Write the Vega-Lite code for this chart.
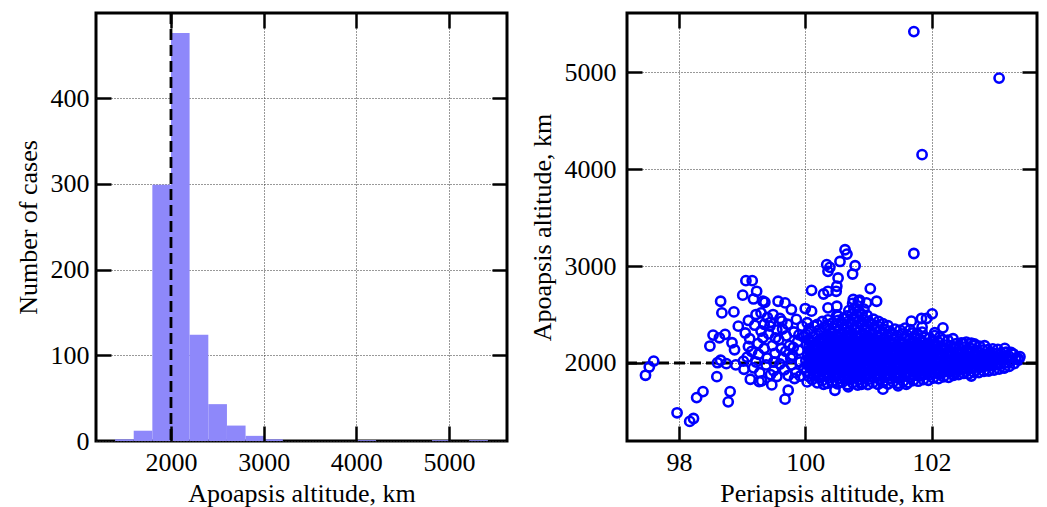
{
"$schema":"https://vega.github.io/schema/vega-lite/v6.json",
"padding":{"left":13,"top":10,"right":5,"bottom":0},
"spacing":18,
"config":{"view":{"stroke":"black","strokeWidth":3},"font":"Liberation Serif",
"axis":{"labelFont":"Liberation Serif","titleFont":"Liberation Serif","labelFontSize":26,"titleFontSize":26,"titleFontWeight":"normal","labelColor":"black","titleColor":"black","domain":false,"ticks":false,"gridDash":[1,2],"gridColor":"#333","gridWidth":1,"gridOpacity":1}},
"hconcat":[
{"width":411,"height":428,
"data":{"values":[
{"start":1397,"end":1598,"count":2},{"start":1598,"end":1799,"count":12},{"start":1799,"end":2000,"count":299},{"start":2000,"end":2201,"count":476},{"start":2201,"end":2403,"count":124},{"start":2403,"end":2604,"count":43},{"start":2604,"end":2805,"count":18},{"start":2805,"end":3006,"count":6},{"start":3006,"end":3207,"count":2},{"start":4011,"end":4213,"count":1},{"start":4816,"end":5017,"count":1},{"start":5218,"end":5420,"count":1}]},
"layer":[
{"mark":{"type":"rect","color":"#8e88fa","opacity":1},
"encoding":{"x":{"field":"start","type":"quantitative","scale":{"domain":[1191,5626],"nice":false,"zero":false},"axis":{"orient":"bottom","values":[2000,3000,4000,5000],"title":"Apoapsis altitude, km","grid":true,"labelPadding":8,"titlePadding":5,"format":"d"}},
"x2":{"field":"end"},
"y":{"field":"count","type":"quantitative","scale":{"domain":[0,499.4],"nice":false},"axis":{"orient":"left","values":[0,100,200,300,400],"title":"Number of cases","grid":true,"labelPadding":7,"titlePadding":9}},
"y2":{"datum":0}}},
{"data":{"values":[{"v":2000}]},"mark":{"type":"rule","color":"black","strokeWidth":2.8,"strokeDash":[11,5]},
"encoding":{"x":{"field":"v","type":"quantitative","axis":null}}},
{"mark":{"type":"rect","opacity":0},
"encoding":{"x":{"field":"start","type":"quantitative","scale":{"domain":[1191,5626],"nice":false,"zero":false},"axis":{"orient":"bottom","values":[2000,3000,4000,5000],"labels":false,"title":null,"grid":true,"gridDash":[15,2000],"gridWidth":2.5,"gridColor":"black","zindex":2}},
"x2":{"field":"end"},
"y":{"field":"count","type":"quantitative","scale":{"domain":[0,499.4],"nice":false},"axis":{"orient":"left","values":[100,200,300,400],"labels":false,"title":null,"grid":true,"gridDash":[15,2000],"gridWidth":2.5,"gridColor":"black","zindex":2}},
"y2":{"datum":0}}},
{"mark":{"type":"rect","opacity":0},
"encoding":{"x":{"field":"start","type":"quantitative","scale":{"domain":[1191,5626],"nice":false,"zero":false},"axis":{"orient":"top","values":[2000,3000,4000,5000],"labels":false,"title":null,"grid":true,"gridDash":[15,2000],"gridWidth":2.5,"gridColor":"black","zindex":2}},
"x2":{"field":"end"},
"y":{"field":"count","type":"quantitative","scale":{"domain":[0,499.4],"nice":false},"axis":{"orient":"right","values":[100,200,300,400],"labels":false,"title":null,"grid":true,"gridDash":[15,2000],"gridWidth":2.5,"gridColor":"black","zindex":2}},
"y2":{"datum":0}}}
],
"resolve":{"axis":{"x":"independent","y":"independent"}}},
{"width":410,"height":428,
"data":{"values":[
{"p":97.60,"a":2020},{"p":97.53,"a":1959},{"p":97.47,"a":1873},{"p":97.97,"a":1486},{"p":98.23,"a":1427},{"p":98.17,"a":1397},{"p":98.38,"a":1705},{"p":98.28,"a":1643},{"p":98.81,"a":1705},{"p":98.78,"a":1599},
{"p":98.61,"a":2003},{"p":98.66,"a":2028},{"p":98.75,"a":1993},{"p":98.60,"a":1859},{"p":98.90,"a":1980},{"p":98.66,"a":2637},{"p":98.68,"a":2517},{"p":98.87,"a":2527},{"p":98.94,"a":2380},{"p":98.54,"a":2288},{"p":98.73,"a":2295},{"p":98.64,"a":2260},{"p":98.49,"a":2175},{"p":98.84,"a":2209},{"p":98.88,"a":2137},
{"p":99.06,"a":2850},{"p":99.16,"a":2850},{"p":99.23,"a":2740},{"p":99.01,"a":2700},{"p":99.18,"a":2661},{"p":99.33,"a":2637},{"p":99.10,"a":2439},{"p":99.22,"a":2500},{"p":99.30,"a":2517},{"p":99.03,"a":1935},{"p":99.13,"a":1832},{"p":99.27,"a":1808},
{"p":99.36,"a":2627},{"p":99.57,"a":2637},{"p":99.68,"a":2620},{"p":99.78,"a":2552},{"p":100.00,"a":2562},{"p":100.10,"a":2535},{"p":99.49,"a":2500},{"p":99.63,"a":2432},{"p":99.44,"a":2380},
{"p":99.68,"a":1627},{"p":99.73,"a":1719},{"p":99.47,"a":1774},{"p":99.31,"a":1815},{"p":99.92,"a":1866},{"p":100.29,"a":1781},{"p":100.47,"a":1719},{"p":100.68,"a":1753},{"p":100.89,"a":1781},{"p":101.23,"a":1730},
{"p":100.63,"a":3169},{"p":100.66,"a":3124},{"p":100.34,"a":3015},{"p":100.39,"a":2987},{"p":100.36,"a":2946},{"p":100.55,"a":3048},{"p":100.79,"a":3004},{"p":100.75,"a":2918},{"p":100.52,"a":2877},{"p":100.50,"a":2792},{"p":100.49,"a":2740},{"p":100.10,"a":2750},{"p":100.29,"a":2712},{"p":100.36,"a":2740},{"p":101.03,"a":2768},
{"p":100.76,"a":2655},{"p":100.84,"a":2637},{"p":100.97,"a":2620},{"p":101.13,"a":2637},{"p":100.36,"a":2569},{"p":100.50,"a":2586},{"p":100.52,"a":2483},
{"p":101.72,"a":5420},{"p":103.07,"a":4940},{"p":101.85,"a":4150},{"p":101.72,"a":3130},
{"p":102.01,"a":2507},{"p":101.92,"a":2459},{"p":101.84,"a":2459},{"p":101.68,"a":2432},{"p":102.18,"a":2363},{"p":101.85,"a":2370},{"p":102.05,"a":2312},{"p":101.74,"a":2278},
{"p":102.50,"a":2202},{"p":102.68,"a":2198},{"p":103.16,"a":2151},{"p":103.37,"a":2048},{"p":102.92,"a":2106},{"p":103.11,"a":2072},{"p":103.16,"a":1952},{"p":102.63,"a":1866},{"p":102.90,"a":1918},{"p":101.47,"a":1764},{"p":101.60,"a":1781},{"p":101.86,"a":1884},{"p":102.12,"a":1884},{"p":102.33,"a":1884},
{"p":99.05,"a":2310},{"p":99.12,"a":2250},{"p":99.20,"a":2390},{"p":99.25,"a":2200},{"p":99.15,"a":2120},{"p":99.30,"a":2330},{"p":99.08,"a":2060},{"p":99.22,"a":2010},{"p":99.35,"a":2150},{"p":99.18,"a":1950},{"p":99.28,"a":1900},{"p":99.40,"a":2050},{"p":99.33,"a":2260},{"p":99.45,"a":2420},{"p":99.38,"a":1980},{"p":99.42,"a":2300},{"p":99.48,"a":2180},{"p":99.50,"a":1920},{"p":99.52,"a":2100},{"p":99.55,"a":2340},{"p":99.58,"a":2240},{"p":99.60,"a":1990},{"p":99.62,"a":2150},{"p":99.65,"a":2050},{"p":99.55,"a":1860},{"p":99.70,"a":2280},{"p":99.72,"a":2400},{"p":99.75,"a":2180},{"p":99.78,"a":1980},{"p":99.80,"a":2080},{"p":99.82,"a":2320},{"p":99.85,"a":1900},{"p":99.88,"a":2220},{"p":99.90,"a":2130},{"p":99.92,"a":2010},{"p":99.95,"a":2380},{"p":99.97,"a":2270},{"p":99.60,"a":2460},{"p":99.40,"a":2470},{"p":99.50,"a":2010},{"p":99.67,"a":1930},{"p":99.83,"a":1840},{"p":99.10,"a":2170},{"p":99.26,"a":2090},{"p":99.45,"a":1880},{"p":99.73,"a":1870},{"p":99.86,"a":2450},{"p":99.98,"a":1950},{"p":99.64,"a":2350},{"p":99.35,"a":2400},{"p":99.02,"a":2020},{"p":99.77,"a":2050},{"p":99.53,"a":2260},{"p":99.69,"a":2120},{"p":99.90,"a":2290},{"p":99.81,"a":2160},
{"p":100.03,"a":1805},{"p":100.05,"a":1862},{"p":100.02,"a":1915},{"p":100.06,"a":1968},{"p":100.01,"a":2024},{"p":100.04,"a":2077},{"p":100.07,"a":2131},{"p":100.02,"a":2186},{"p":100.05,"a":2240},{"p":100.01,"a":2296},{"p":100.06,"a":2351},{"p":100.03,"a":2415},
{"p":100.11,"a":1830},{"p":100.13,"a":1884},{"p":100.10,"a":1940},{"p":100.14,"a":1993},{"p":100.09,"a":2050},{"p":100.12,"a":2103},{"p":100.15,"a":2158},{"p":100.10,"a":2212},{"p":100.13,"a":2268},{"p":100.09,"a":2322},{"p":100.14,"a":2380},
{"p":100.19,"a":1795},{"p":100.21,"a":1850},{"p":100.18,"a":1905},{"p":100.22,"a":1960},{"p":100.17,"a":2014},{"p":100.20,"a":2068},{"p":100.23,"a":2122},{"p":100.18,"a":2177},{"p":100.21,"a":2231},{"p":100.17,"a":2285},{"p":100.22,"a":2340},{"p":100.19,"a":2398},
{"p":100.27,"a":1818},{"p":100.29,"a":1873},{"p":100.26,"a":1929},{"p":100.30,"a":1982},{"p":100.25,"a":2036},{"p":100.28,"a":2091},{"p":100.31,"a":2145},{"p":100.26,"a":2200},{"p":100.29,"a":2254},{"p":100.25,"a":2310},{"p":100.30,"a":2366},{"p":100.27,"a":2428},
{"p":100.35,"a":1790},{"p":100.37,"a":1846},{"p":100.34,"a":1900},{"p":100.38,"a":1955},{"p":100.33,"a":2009},{"p":100.36,"a":2063},{"p":100.39,"a":2118},{"p":100.34,"a":2172},{"p":100.37,"a":2227},{"p":100.33,"a":2281},{"p":100.38,"a":2336},{"p":100.35,"a":2392},{"p":100.36,"a":2445},
{"p":100.43,"a":1812},{"p":100.45,"a":1867},{"p":100.42,"a":1921},{"p":100.46,"a":1977},{"p":100.41,"a":2030},{"p":100.44,"a":2085},{"p":100.47,"a":2139},{"p":100.42,"a":2195},{"p":100.45,"a":2249},{"p":100.41,"a":2304},{"p":100.46,"a":2358},{"p":100.43,"a":2413},
{"p":100.51,"a":1785},{"p":100.53,"a":1840},{"p":100.50,"a":1895},{"p":100.54,"a":1950},{"p":100.49,"a":2004},{"p":100.52,"a":2058},{"p":100.55,"a":2113},{"p":100.50,"a":2168},{"p":100.53,"a":2222},{"p":100.49,"a":2276},{"p":100.54,"a":2331},{"p":100.51,"a":2386},{"p":100.52,"a":2440},{"p":100.50,"a":2497},
{"p":100.59,"a":1802},{"p":100.61,"a":1857},{"p":100.58,"a":1912},{"p":100.62,"a":1966},{"p":100.57,"a":2021},{"p":100.60,"a":2076},{"p":100.63,"a":2130},{"p":100.58,"a":2184},{"p":100.61,"a":2239},{"p":100.57,"a":2293},{"p":100.62,"a":2348},{"p":100.59,"a":2402},{"p":100.60,"a":2458},
{"p":100.67,"a":1775},{"p":100.69,"a":1830},{"p":100.66,"a":1885},{"p":100.70,"a":1940},{"p":100.65,"a":1994},{"p":100.68,"a":2049},{"p":100.71,"a":2103},{"p":100.66,"a":2158},{"p":100.69,"a":2212},{"p":100.65,"a":2267},{"p":100.70,"a":2321},{"p":100.67,"a":2376},{"p":100.68,"a":2430},{"p":100.66,"a":2485},{"p":100.69,"a":2540},
{"p":100.75,"a":1795},{"p":100.77,"a":1850},{"p":100.74,"a":1905},{"p":100.78,"a":1959},{"p":100.73,"a":2014},{"p":100.76,"a":2068},{"p":100.79,"a":2123},{"p":100.74,"a":2177},{"p":100.77,"a":2232},{"p":100.73,"a":2286},{"p":100.78,"a":2341},{"p":100.75,"a":2395},{"p":100.76,"a":2450},{"p":100.74,"a":2505},{"p":100.77,"a":2560},{"p":100.75,"a":2615},
{"p":100.83,"a":1772},{"p":100.85,"a":1826},{"p":100.82,"a":1881},{"p":100.86,"a":1936},{"p":100.81,"a":1990},{"p":100.84,"a":2045},{"p":100.87,"a":2100},{"p":100.82,"a":2154},{"p":100.85,"a":2209},{"p":100.81,"a":2263},{"p":100.86,"a":2318},{"p":100.83,"a":2372},{"p":100.84,"a":2427},{"p":100.82,"a":2482},{"p":100.85,"a":2536},{"p":100.83,"a":2590},{"p":100.86,"a":2648},
{"p":100.91,"a":1790},{"p":100.93,"a":1845},{"p":100.90,"a":1899},{"p":100.94,"a":1954},{"p":100.89,"a":2008},{"p":100.92,"a":2063},{"p":100.95,"a":2117},{"p":100.90,"a":2172},{"p":100.93,"a":2226},{"p":100.89,"a":2281},{"p":100.94,"a":2335},{"p":100.91,"a":2390},{"p":100.92,"a":2445},{"p":100.90,"a":2500},{"p":100.93,"a":2556},
{"p":100.99,"a":1778},{"p":101.01,"a":1833},{"p":100.98,"a":1888},{"p":101.02,"a":1942},{"p":100.97,"a":1997},{"p":101.00,"a":2051},{"p":101.03,"a":2106},{"p":100.98,"a":2160},{"p":101.01,"a":2215},{"p":100.97,"a":2270},{"p":101.02,"a":2324},{"p":100.99,"a":2379},{"p":101.00,"a":2433},{"p":100.98,"a":2490},
{"p":101.07,"a":1797},{"p":101.09,"a":1852},{"p":101.06,"a":1906},{"p":101.10,"a":1961},{"p":101.05,"a":2015},{"p":101.08,"a":2070},{"p":101.11,"a":2124},{"p":101.06,"a":2179},{"p":101.09,"a":2233},{"p":101.05,"a":2288},{"p":101.10,"a":2342},{"p":101.07,"a":2398},{"p":101.08,"a":2452},
{"p":101.15,"a":1780},{"p":101.17,"a":1835},{"p":101.14,"a":1890},{"p":101.18,"a":1944},{"p":101.13,"a":1999},{"p":101.16,"a":2053},{"p":101.19,"a":2108},{"p":101.14,"a":2162},{"p":101.17,"a":2217},{"p":101.13,"a":2271},{"p":101.18,"a":2326},{"p":101.15,"a":2381},{"p":101.16,"a":2430},
{"p":101.23,"a":1800},{"p":101.25,"a":1855},{"p":101.22,"a":1909},{"p":101.26,"a":1964},{"p":101.21,"a":2018},{"p":101.24,"a":2073},{"p":101.27,"a":2127},{"p":101.22,"a":2182},{"p":101.25,"a":2236},{"p":101.21,"a":2291},{"p":101.26,"a":2345},{"p":101.23,"a":2405},
{"p":101.31,"a":1783},{"p":101.33,"a":1838},{"p":101.30,"a":1893},{"p":101.34,"a":1947},{"p":101.29,"a":2002},{"p":101.32,"a":2056},{"p":101.35,"a":2111},{"p":101.30,"a":2165},{"p":101.33,"a":2220},{"p":101.29,"a":2274},{"p":101.34,"a":2329},{"p":101.31,"a":2385},
{"p":101.39,"a":1803},{"p":101.41,"a":1858},{"p":101.38,"a":1912},{"p":101.42,"a":1967},{"p":101.37,"a":2021},{"p":101.40,"a":2076},{"p":101.43,"a":2130},{"p":101.38,"a":2185},{"p":101.41,"a":2239},{"p":101.37,"a":2294},{"p":101.42,"a":2350},
{"p":101.47,"a":1790},{"p":101.49,"a":1845},{"p":101.46,"a":1899},{"p":101.50,"a":1954},{"p":101.45,"a":2008},{"p":101.48,"a":2063},{"p":101.51,"a":2117},{"p":101.46,"a":2172},{"p":101.49,"a":2226},{"p":101.45,"a":2281},{"p":101.50,"a":2340},
{"p":101.55,"a":1810},{"p":101.57,"a":1865},{"p":101.54,"a":1919},{"p":101.58,"a":1974},{"p":101.53,"a":2028},{"p":101.56,"a":2083},{"p":101.59,"a":2137},{"p":101.54,"a":2192},{"p":101.57,"a":2246},{"p":101.53,"a":2301},{"p":101.58,"a":2360},
{"p":101.63,"a":1798},{"p":101.65,"a":1852},{"p":101.62,"a":1907},{"p":101.66,"a":1961},{"p":101.61,"a":2016},{"p":101.64,"a":2070},{"p":101.67,"a":2125},{"p":101.62,"a":2179},{"p":101.65,"a":2234},{"p":101.61,"a":2290},{"p":101.66,"a":2345},
{"p":101.71,"a":1818},{"p":101.73,"a":1872},{"p":101.70,"a":1927},{"p":101.74,"a":1981},{"p":101.69,"a":2036},{"p":101.72,"a":2090},{"p":101.75,"a":2145},{"p":101.70,"a":2199},{"p":101.73,"a":2254},{"p":101.69,"a":2310},
{"p":101.79,"a":1812},{"p":101.81,"a":1866},{"p":101.78,"a":1921},{"p":101.82,"a":1975},{"p":101.77,"a":2030},{"p":101.80,"a":2084},{"p":101.83,"a":2139},{"p":101.78,"a":2193},{"p":101.81,"a":2248},{"p":101.77,"a":2305},
{"p":101.87,"a":1828},{"p":101.89,"a":1882},{"p":101.86,"a":1937},{"p":101.90,"a":1991},{"p":101.85,"a":2046},{"p":101.88,"a":2100},{"p":101.91,"a":2155},{"p":101.86,"a":2209},{"p":101.89,"a":2265},{"p":101.85,"a":2318},
{"p":101.95,"a":1822},{"p":101.97,"a":1877},{"p":101.94,"a":1931},{"p":101.98,"a":1986},{"p":101.93,"a":2040},{"p":101.96,"a":2095},{"p":101.99,"a":2149},{"p":101.94,"a":2204},{"p":101.97,"a":2260},
{"p":102.03,"a":1845},{"p":102.05,"a":1899},{"p":102.02,"a":1954},{"p":102.06,"a":2008},{"p":102.01,"a":2063},{"p":102.04,"a":2117},{"p":102.07,"a":2172},{"p":102.02,"a":2226},{"p":102.05,"a":2282},
{"p":102.11,"a":1838},{"p":102.13,"a":1892},{"p":102.10,"a":1947},{"p":102.14,"a":2001},{"p":102.09,"a":2056},{"p":102.12,"a":2110},{"p":102.15,"a":2165},{"p":102.10,"a":2219},{"p":102.13,"a":2268},
{"p":102.19,"a":1858},{"p":102.21,"a":1912},{"p":102.18,"a":1967},{"p":102.22,"a":2021},{"p":102.17,"a":2076},{"p":102.20,"a":2130},{"p":102.23,"a":2185},{"p":102.18,"a":2240},
{"p":102.27,"a":1852},{"p":102.29,"a":1906},{"p":102.26,"a":1961},{"p":102.30,"a":2015},{"p":102.25,"a":2070},{"p":102.28,"a":2124},{"p":102.31,"a":2179},{"p":102.26,"a":2235},
{"p":102.35,"a":1872},{"p":102.37,"a":1926},{"p":102.34,"a":1981},{"p":102.38,"a":2035},{"p":102.33,"a":2090},{"p":102.36,"a":2144},{"p":102.39,"a":2199},{"p":102.34,"a":2250},
{"p":102.43,"a":1880},{"p":102.45,"a":1935},{"p":102.42,"a":1989},{"p":102.46,"a":2044},{"p":102.41,"a":2098},{"p":102.44,"a":2153},{"p":102.47,"a":2207},
{"p":102.51,"a":1892},{"p":102.53,"a":1946},{"p":102.50,"a":2001},{"p":102.54,"a":2055},{"p":102.49,"a":2110},{"p":102.52,"a":2164},{"p":102.55,"a":2215},
{"p":102.59,"a":1888},{"p":102.61,"a":1942},{"p":102.58,"a":1997},{"p":102.62,"a":2051},{"p":102.57,"a":2106},{"p":102.60,"a":2160},{"p":102.63,"a":2205},
{"p":102.67,"a":1905},{"p":102.69,"a":1959},{"p":102.66,"a":2014},{"p":102.70,"a":2068},{"p":102.65,"a":2123},{"p":102.68,"a":2180},
{"p":102.75,"a":1902},{"p":102.77,"a":1956},{"p":102.74,"a":2011},{"p":102.78,"a":2065},{"p":102.73,"a":2120},{"p":102.76,"a":2175},
{"p":102.83,"a":1915},{"p":102.85,"a":1969},{"p":102.82,"a":2024},{"p":102.86,"a":2078},{"p":102.81,"a":2133},{"p":102.84,"a":2178},
{"p":102.91,"a":1920},{"p":102.93,"a":1974},{"p":102.90,"a":2029},{"p":102.94,"a":2083},{"p":102.89,"a":2138},
{"p":102.99,"a":1928},{"p":103.01,"a":1982},{"p":102.98,"a":2037},{"p":103.02,"a":2091},{"p":102.97,"a":2146},
{"p":103.07,"a":1938},{"p":103.09,"a":1992},{"p":103.06,"a":2047},{"p":103.10,"a":2101},{"p":103.05,"a":2140},
{"p":103.15,"a":1948},{"p":103.17,"a":2002},{"p":103.14,"a":2057},{"p":103.18,"a":2111},
{"p":103.23,"a":1965},{"p":103.25,"a":2020},{"p":103.22,"a":2074},{"p":103.26,"a":2108},
{"p":103.31,"a":1995},{"p":103.33,"a":2050},{"p":103.30,"a":2090},
{"p":103.38,"a":2030},{"p":103.40,"a":2065},
{"p":100.07,"a":1890},{"p":100.08,"a":1948},{"p":100.06,"a":2003},{"p":100.07,"a":2060},{"p":100.08,"a":2115},{"p":100.06,"a":2172},{"p":100.07,"a":2228},
{"p":100.15,"a":1905},{"p":100.16,"a":1962},{"p":100.14,"a":2018},{"p":100.15,"a":2075},{"p":100.16,"a":2130},{"p":100.14,"a":2188},
{"p":100.23,"a":1880},{"p":100.24,"a":1937},{"p":100.22,"a":1995},{"p":100.23,"a":2050},{"p":100.24,"a":2106},{"p":100.22,"a":2163},{"p":100.23,"a":2220},
{"p":100.31,"a":1898},{"p":100.32,"a":1955},{"p":100.30,"a":2012},{"p":100.31,"a":2068},{"p":100.32,"a":2124},{"p":100.30,"a":2181},{"p":100.31,"a":2236},
{"p":100.39,"a":1875},{"p":100.40,"a":1930},{"p":100.38,"a":1988},{"p":100.39,"a":2044},{"p":100.40,"a":2100},{"p":100.38,"a":2156},{"p":100.39,"a":2212},{"p":100.40,"a":2268},
{"p":100.47,"a":1895},{"p":100.48,"a":1952},{"p":100.46,"a":2008},{"p":100.47,"a":2065},{"p":100.48,"a":2120},{"p":100.46,"a":2177},{"p":100.47,"a":2233},
{"p":100.55,"a":1870},{"p":100.56,"a":1925},{"p":100.54,"a":1982},{"p":100.55,"a":2038},{"p":100.56,"a":2094},{"p":100.54,"a":2150},{"p":100.55,"a":2206},{"p":100.56,"a":2262},
{"p":100.63,"a":1888},{"p":100.64,"a":1945},{"p":100.62,"a":2001},{"p":100.63,"a":2058},{"p":100.64,"a":2114},{"p":100.62,"a":2170},{"p":100.63,"a":2226},{"p":100.64,"a":2282},
{"p":100.71,"a":1868},{"p":100.72,"a":1922},{"p":100.70,"a":1978},{"p":100.71,"a":2034},{"p":100.72,"a":2090},{"p":100.70,"a":2146},{"p":100.71,"a":2202},{"p":100.72,"a":2258},{"p":100.70,"a":2315},
{"p":100.79,"a":1885},{"p":100.80,"a":1942},{"p":100.78,"a":1998},{"p":100.79,"a":2054},{"p":100.80,"a":2110},{"p":100.78,"a":2166},{"p":100.79,"a":2222},{"p":100.80,"a":2278},
{"p":100.87,"a":1870},{"p":100.88,"a":1926},{"p":100.86,"a":1982},{"p":100.87,"a":2038},{"p":100.88,"a":2094},{"p":100.86,"a":2150},{"p":100.87,"a":2206},{"p":100.88,"a":2262},
{"p":100.95,"a":1880},{"p":100.96,"a":1937},{"p":100.94,"a":1993},{"p":100.95,"a":2049},{"p":100.96,"a":2105},{"p":100.94,"a":2161},{"p":100.95,"a":2217},
{"p":101.03,"a":1865},{"p":101.04,"a":1921},{"p":101.02,"a":1977},{"p":101.03,"a":2033},{"p":101.04,"a":2089},{"p":101.02,"a":2145},{"p":101.03,"a":2201},{"p":101.04,"a":2257},
{"p":101.11,"a":1882},{"p":101.12,"a":1938},{"p":101.10,"a":1994},{"p":101.11,"a":2050},{"p":101.12,"a":2106},{"p":101.10,"a":2162},{"p":101.11,"a":2218},
{"p":101.19,"a":1868},{"p":101.20,"a":1924},{"p":101.18,"a":1980},{"p":101.19,"a":2036},{"p":101.20,"a":2092},{"p":101.18,"a":2148},{"p":101.19,"a":2204},
{"p":101.27,"a":1885},{"p":101.28,"a":1941},{"p":101.26,"a":1997},{"p":101.27,"a":2053},{"p":101.28,"a":2109},{"p":101.26,"a":2165},{"p":101.27,"a":2221},
{"p":101.35,"a":1872},{"p":101.36,"a":1928},{"p":101.34,"a":1984},{"p":101.35,"a":2040},{"p":101.36,"a":2096},{"p":101.34,"a":2152},{"p":101.35,"a":2208},
{"p":101.43,"a":1888},{"p":101.44,"a":1944},{"p":101.42,"a":2000},{"p":101.43,"a":2056},{"p":101.44,"a":2112},{"p":101.42,"a":2168},
{"p":101.51,"a":1875},{"p":101.52,"a":1931},{"p":101.50,"a":1987},{"p":101.51,"a":2043},{"p":101.52,"a":2099},{"p":101.50,"a":2155},{"p":101.51,"a":2211},
{"p":101.59,"a":1892},{"p":101.60,"a":1948},{"p":101.58,"a":2004},{"p":101.59,"a":2060},{"p":101.60,"a":2116},{"p":101.58,"a":2172},
{"p":101.67,"a":1880},{"p":101.68,"a":1936},{"p":101.66,"a":1992},{"p":101.67,"a":2048},{"p":101.68,"a":2104},{"p":101.66,"a":2160},
{"p":101.75,"a":1895},{"p":101.76,"a":1951},{"p":101.74,"a":2007},{"p":101.75,"a":2063},{"p":101.76,"a":2119},{"p":101.74,"a":2175},
{"p":101.83,"a":1890},{"p":101.84,"a":1946},{"p":101.82,"a":2002},{"p":101.83,"a":2058},{"p":101.84,"a":2114},{"p":101.82,"a":2170},
{"p":101.91,"a":1905},{"p":101.92,"a":1961},{"p":101.90,"a":2017},{"p":101.91,"a":2073},{"p":101.92,"a":2129},
{"p":101.99,"a":1900},{"p":102.00,"a":1956},{"p":101.98,"a":2012},{"p":101.99,"a":2068},{"p":102.00,"a":2124},{"p":101.98,"a":2180},
{"p":102.07,"a":1915},{"p":102.08,"a":1971},{"p":102.06,"a":2027},{"p":102.07,"a":2083},{"p":102.08,"a":2139},
{"p":102.15,"a":1910},{"p":102.16,"a":1966},{"p":102.14,"a":2022},{"p":102.15,"a":2078},{"p":102.16,"a":2134},
{"p":102.23,"a":1925},{"p":102.24,"a":1981},{"p":102.22,"a":2037},{"p":102.23,"a":2093},{"p":102.24,"a":2149},
{"p":102.31,"a":1920},{"p":102.32,"a":1976},{"p":102.30,"a":2032},{"p":102.31,"a":2088},
{"p":102.39,"a":1935},{"p":102.40,"a":1991},{"p":102.38,"a":2047},{"p":102.39,"a":2103},
{"p":102.47,"a":1930},{"p":102.48,"a":1986},{"p":102.46,"a":2042},{"p":102.47,"a":2098},
{"p":102.55,"a":1945},{"p":102.56,"a":2000},{"p":102.54,"a":2056},{"p":102.55,"a":2112},
{"p":102.63,"a":1950},{"p":102.64,"a":2005},{"p":102.62,"a":2062},
{"p":102.71,"a":1960},{"p":102.72,"a":2016},{"p":102.70,"a":2072},{"p":102.71,"a":2128},
{"p":102.79,"a":1965},{"p":102.80,"a":2021},{"p":102.78,"a":2077},
{"p":102.87,"a":1975},{"p":102.88,"a":2031},{"p":102.86,"a":2087},
{"p":102.95,"a":1980},{"p":102.96,"a":2036},{"p":102.94,"a":2092},
{"p":103.03,"a":1990},{"p":103.04,"a":2044},{"p":103.02,"a":2098}
]},
"layer":[
{"data":{"values":[{"v":2000}]},"mark":{"type":"rule","color":"black","strokeWidth":2.8,"strokeDash":[11,5]},
"encoding":{"y":{"field":"v","type":"quantitative","axis":null}}},
{"mark":{"type":"point","shape":"circle","filled":false,"color":"#0000ff","size":85,"strokeWidth":2.6,"opacity":1},
"encoding":{"x":{"field":"p","type":"quantitative","scale":{"domain":[97.177,103.67],"nice":false,"zero":false},"axis":{"orient":"bottom","values":[98,100,102],"title":"Periapsis altitude, km","grid":true,"labelPadding":8,"titlePadding":5}},
"y":{"field":"a","type":"quantitative","scale":{"domain":[1195,5612],"nice":false,"zero":false},"axis":{"orient":"left","values":[2000,3000,4000,5000],"title":"Apoapsis altitude, km","grid":true,"labelPadding":11,"titlePadding":9,"format":"d"}}}},
{"mark":{"type":"point","opacity":0},
"encoding":{"x":{"field":"p","type":"quantitative","scale":{"domain":[97.177,103.67],"nice":false,"zero":false},"axis":{"orient":"bottom","values":[98,100,102],"labels":false,"title":null,"grid":true,"gridDash":[15,2000],"gridWidth":2.5,"gridColor":"black","zindex":2}},
"y":{"field":"a","type":"quantitative","scale":{"domain":[1195,5612],"nice":false,"zero":false},"axis":{"orient":"left","values":[2000,3000,4000,5000],"labels":false,"title":null,"grid":true,"gridDash":[15,2000],"gridWidth":2.5,"gridColor":"black","zindex":2}}}},
{"mark":{"type":"point","opacity":0},
"encoding":{"x":{"field":"p","type":"quantitative","scale":{"domain":[97.177,103.67],"nice":false,"zero":false},"axis":{"orient":"top","values":[98,100,102],"labels":false,"title":null,"grid":true,"gridDash":[15,2000],"gridWidth":2.5,"gridColor":"black","zindex":2}},
"y":{"field":"a","type":"quantitative","scale":{"domain":[1195,5612],"nice":false,"zero":false},"axis":{"orient":"right","values":[2000,3000,4000,5000],"labels":false,"title":null,"grid":true,"gridDash":[15,2000],"gridWidth":2.5,"gridColor":"black","zindex":2}}}}
],
"resolve":{"axis":{"x":"independent","y":"independent"}}}
]
}
